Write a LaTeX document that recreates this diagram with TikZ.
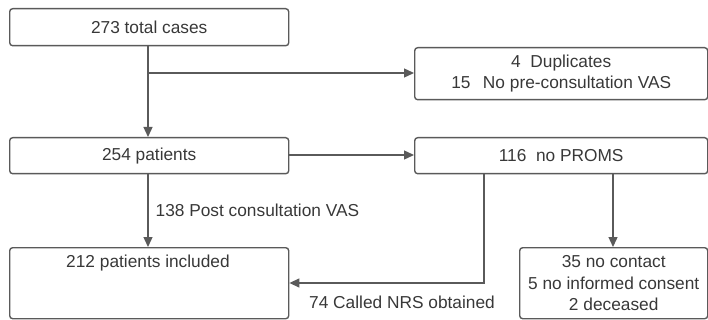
\documentclass[tikz,border=0pt]{standalone}
\usepackage{fontspec}
\setmainfont{Liberation Sans}
\usetikzlibrary{arrows.meta}
\definecolor{lc}{HTML}{5A5A5A}
\definecolor{tc}{HTML}{383838}
\begin{document}
\begin{tikzpicture}[x=1pt,y=-1pt,
  box/.style={draw=lc,line width=1.4pt,rounded corners=3pt,inner sep=0pt,anchor=north west,text=tc},
  conn/.style={draw=lc,line width=1.3pt,-{Triangle[length=10pt,width=9pt]}},
  lab/.style={text=tc,inner sep=0pt},
  every node/.style={font=\fontsize{17.3}{21.5}\selectfont}]
\useasboundingbox (0,0) rectangle (708,320);
\node[box,minimum width=279pt,minimum height=37pt] (total) at (9,8) {273 total cases};
\node[box,minimum width=293pt,minimum height=52pt,align=center] (dup) at (414,47) {4\ \ Duplicates\\15\ \ \,No pre-consultation VAS};
\node[box,minimum width=279pt,minimum height=36pt] (pat) at (9,137) {254 patients};
\node[box,minimum width=293pt,minimum height=36pt] (noproms) at (414,137) {116\ \ no PROMS};
\node[box,minimum width=279pt,minimum height=71pt] (incl) at (9,247) {};
\node[lab,anchor=center] (incltext) at (148,263) {212 patients included};
\node[box,minimum width=188pt,minimum height=71pt,align=center] (excl) at (519,247) {35 no contact\\5 no informed consent\\2 deceased};
\coordinate (br) at (148,73);
\coordinate (nc) at (484,283);
\draw[conn] (total.south -| br) -- (pat.north -| br);
\draw[conn] (br) -- (br -| dup.west);
\draw[conn] (pat.east |- 0,155) -- (noproms.west |- 0,155);
\draw[conn] (pat.south -| br) -- node[lab,right=7pt] (l138) {138 Post consultation VAS} (incl.north -| br);
\draw[conn] (noproms.south -| nc) -- (nc) -- (nc -| incl.east);
\node[lab,anchor=west] (l74) at (309,302) {74 Called NRS obtained};
\draw[conn] (noproms.south -| 613,0) -- (excl.north -| 613,0);
\end{tikzpicture}
\end{document}
